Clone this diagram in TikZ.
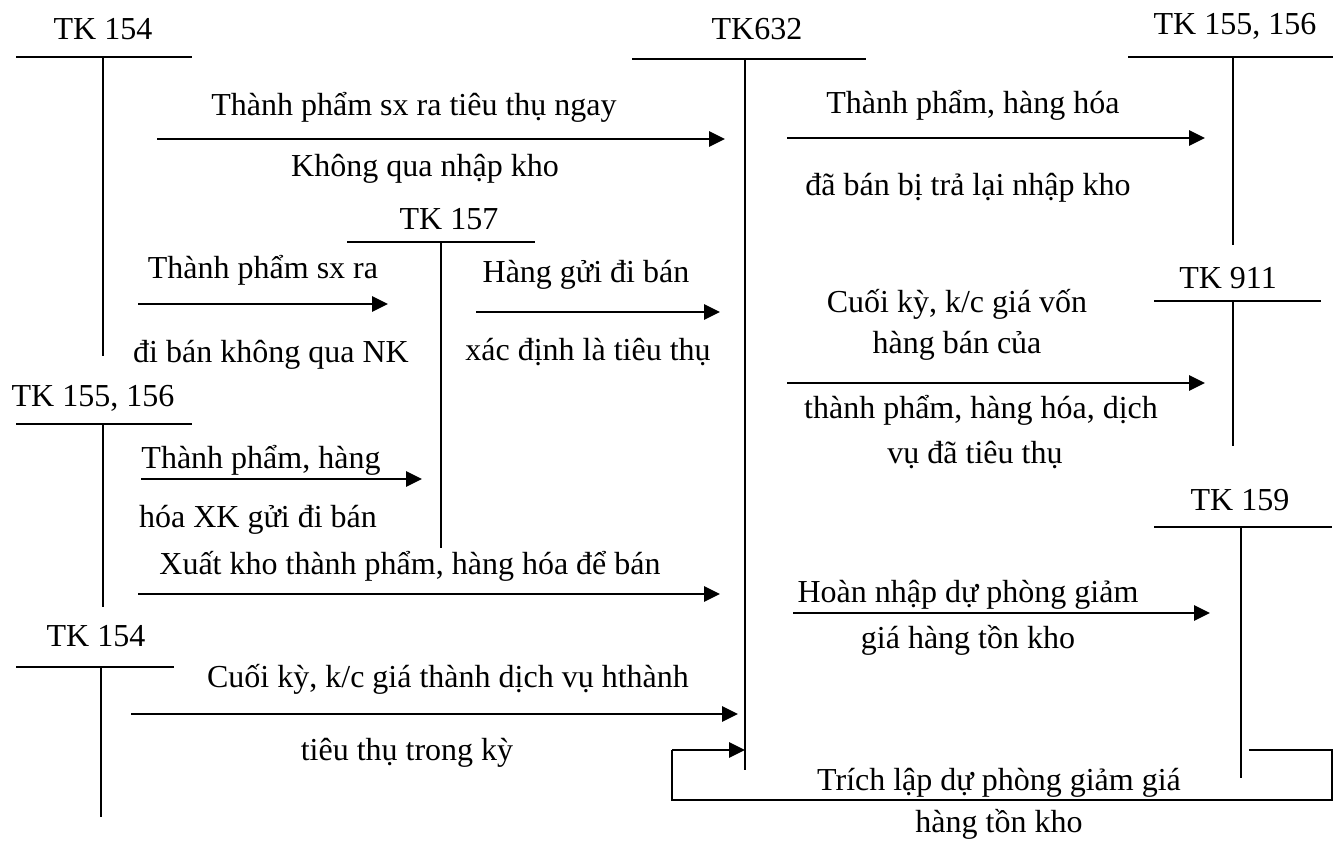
\documentclass[tikz,border=0pt]{standalone}
\usepackage{fontspec}
\setmainfont{Liberation Serif}
\usetikzlibrary{arrows.meta}
\begin{document}
\begin{tikzpicture}[x=1pt,y=-1pt,
  tacc/.style={line width=2.2pt},
  flow/.style={line width=2.8pt,-{Triangle[length=16pt,width=15pt]}},
  loopline/.style={line width=2.2pt},
  lbl/.style={anchor=base,inner sep=0pt,font=\fontsize{32}{38}\selectfont}]
\useasboundingbox (0,0) rectangle (1341,841);

% ---------- T accounts ----------
% TK 154 (top left)
\node[lbl] (tA) at (103,39) {TK 154};
\coordinate (A1) at (16,57); \coordinate (A2) at (192,57);
\coordinate (At) at (103,57); \coordinate (Ab) at (103,356);
\draw[tacc] (A1) -- (A2); \draw[tacc] (At) -- (Ab);
% TK632
\node[lbl] (tB) at (757,39) {TK632};
\coordinate (B1) at (632,59); \coordinate (B2) at (866,59);
\coordinate (Bt) at (745,59); \coordinate (Bb) at (745,770);
\draw[tacc] (B1) -- (B2); \draw[tacc] (Bt) -- (Bb);
% TK 155, 156 (top right)
\node[lbl] (tC) at (1235,34) {TK 155, 156};
\coordinate (C1) at (1128,57); \coordinate (C2) at (1333,57);
\coordinate (Ct) at (1233,57); \coordinate (Cb) at (1233,245);
\draw[tacc] (C1) -- (C2); \draw[tacc] (Ct) -- (Cb);
% TK 157
\node[lbl] (tD) at (449,229) {TK 157};
\coordinate (D1) at (347,242); \coordinate (D2) at (535,242);
\coordinate (Dt) at (441,242); \coordinate (Db) at (441,548);
\draw[tacc] (D1) -- (D2); \draw[tacc] (Dt) -- (Db);
% TK 911
\node[lbl] (tE) at (1228,288) {TK 911};
\coordinate (E1) at (1154,301); \coordinate (E2) at (1321,301);
\coordinate (Et) at (1233,301); \coordinate (Eb) at (1233,446);
\draw[tacc] (E1) -- (E2); \draw[tacc] (Et) -- (Eb);
% TK 155, 156 (left)
\node[lbl] (tF) at (93,406) {TK 155, 156};
\coordinate (F1) at (16,424); \coordinate (F2) at (192,424);
\coordinate (Ft) at (103,424); \coordinate (Fb) at (103,607);
\draw[tacc] (F1) -- (F2); \draw[tacc] (Ft) -- (Fb);
% TK 159
\node[lbl] (tG) at (1240,510) {TK 159};
\coordinate (G1) at (1154,527); \coordinate (G2) at (1332,527);
\coordinate (Gt) at (1241,527); \coordinate (Gb) at (1241,778);
\draw[tacc] (G1) -- (G2); \draw[tacc] (Gt) -- (Gb);
% TK 154 (bottom left)
\node[lbl] (tH) at (96,646) {TK 154};
\coordinate (H1) at (16,667); \coordinate (H2) at (174,667);
\coordinate (Ht) at (101,667); \coordinate (Hb) at (101,817);
\draw[tacc] (H1) -- (H2); \draw[tacc] (Ht) -- (Hb);

% ---------- flows ----------
% 1
\coordinate (f1s) at (157,139); \coordinate (f1e) at (725,139);
\draw[flow] (f1s) -- (f1e);
\node[lbl] (l1a) at (414,115) {Thành phẩm sx ra tiêu thụ ngay};
\node[lbl] (l1b) at (425,176) {Không qua nhập kho};
% 2
\coordinate (f2s) at (787,138); \coordinate (f2e) at (1205,138);
\draw[flow] (f2s) -- (f2e);
\node[lbl] (l2a) at (973,113) {Thành phẩm, hàng hóa};
\node[lbl] (l2b) at (968,195) {đã bán bị trả lại nhập kho};
% 3
\coordinate (f3s) at (138,304); \coordinate (f3e) at (388,304);
\draw[flow] (f3s) -- (f3e);
\node[lbl] (l3a) at (263,278) {Thành phẩm sx ra};
\node[lbl] (l3b) at (271,362) {đi bán không qua NK};
% 4
\coordinate (f4s) at (476,312); \coordinate (f4e) at (720,312);
\draw[flow] (f4s) -- (f4e);
\node[lbl] (l4a) at (586,282) {Hàng gửi đi bán};
\node[lbl] (l4b) at (588,360) {xác định là tiêu thụ};
% 5
\coordinate (f5s) at (787,383); \coordinate (f5e) at (1205,383);
\draw[flow] (f5s) -- (f5e);
\node[lbl] (l5a) at (957,312) {Cuối kỳ, k/c giá vốn};
\node[lbl] (l5b) at (957,353) {hàng bán của};
\node[lbl] (l5c) at (981,418) {thành phẩm, hàng hóa, dịch};
\node[lbl] (l5d) at (975,463) {vụ đã tiêu thụ};
% 6
\coordinate (f6s) at (141,479); \coordinate (f6e) at (422,479);
\draw[flow] (f6s) -- (f6e);
\node[lbl] (l6a) at (261,468) {Thành phẩm, hàng};
\node[lbl] (l6b) at (258,527) {hóa XK gửi đi bán};
% 7
\coordinate (f7s) at (138,594); \coordinate (f7e) at (720,594);
\draw[flow] (f7s) -- (f7e);
\node[lbl] (l7a) at (410,574) {Xuất kho thành phẩm, hàng hóa để bán};
% 8
\coordinate (f8s) at (793,613); \coordinate (f8e) at (1210,613);
\draw[flow] (f8s) -- (f8e);
\node[lbl] (l8a) at (968,602) {Hoàn nhập dự phòng giảm};
\node[lbl] (l8b) at (968,648) {giá hàng tồn kho};
% 9
\coordinate (f9s) at (131,714); \coordinate (f9e) at (738,714);
\draw[flow] (f9s) -- (f9e);
\node[lbl] (l9a) at (448,687) {Cuối kỳ, k/c giá thành dịch vụ hthành};
\node[lbl] (l9b) at (407,760) {tiêu thụ trong kỳ};
% 10 loop from TK159 to TK632
\coordinate (p1) at (1249,750); \coordinate (p2) at (1332,750);
\coordinate (p3) at (1332,800); \coordinate (p4) at (672,800);
\coordinate (p5) at (672,750); \coordinate (p6) at (745,750);
\draw[loopline] (p1) -- (p2) -- (p3) -- (p4) -- (p5);
\draw[flow] (p5) -- (p6);
\node[lbl] (l10a) at (999,790) {Trích lập dự phòng giảm giá};
\node[lbl] (l10b) at (999,832) {hàng tồn kho};
\end{tikzpicture}
\end{document}
